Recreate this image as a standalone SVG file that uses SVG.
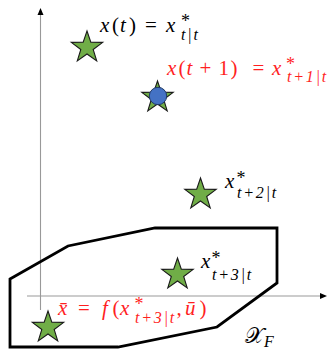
<svg xmlns="http://www.w3.org/2000/svg" width="328" height="349" viewBox="0 0 328 349">
<style>
text{font-family:'Liberation Serif','DejaVu Serif',serif}
.m{font-size:21px;fill:#000}
.i{font-style:italic}
.s{font-size:16px;font-style:italic;letter-spacing:1.8px}
.st{font-size:18px;font-style:normal}
.red{fill:#ff1f1f}
.ax{stroke:#999;stroke-width:1.1;fill:none}
.star{fill:#70ad47;stroke:#1a1a1a;stroke-width:1.1;stroke-linejoin:miter}
</style>
<defs>
<polygon id="star" class="star" points="0,-16.5 3.82,-5.26 15.69,-5.1 6.18,2.01 9.7,13.35 0,6.5 -9.7,13.35 -6.18,2.01 -15.69,-5.1 -3.82,-5.26"/>
</defs>
<rect width="328" height="349" fill="#fff"/>
<g id="axes">
<line class="ax" x1="40.5" y1="14" x2="40.5" y2="310"/>
<polygon points="40.5,8 37.5,15 43.5,15" fill="#000"/>
<line class="ax" x1="27" y1="296" x2="321" y2="296"/>
<polygon points="327,296 320,293 320,299" fill="#000"/>
</g>
<g id="feasible-set">
<polygon points="10,279 68,246 155,228 277,228 277,283 217,327 118,347 10,347" fill="none" stroke="#000" stroke-width="2.8" stroke-linejoin="miter"/>
<text class="m" x="245" y="343" style="font-size:22px">𝒳<tspan class="i" x="264" y="347" style="font-size:16px">F</tspan></text>
</g>
<g id="x-t">
<use href="#star" x="87" y="47.5"/>
<text class="m"><tspan class="i" x="100" y="32">x</tspan><tspan x="112" y="32">(</tspan><tspan class="i" x="120" y="32">t</tspan><tspan x="129" y="32">)</tspan><tspan x="145" y="32">=</tspan><tspan class="i" x="166" y="32">x</tspan><tspan class="st" x="181" y="27">*</tspan><tspan class="s" x="181" y="40">t|t</tspan></text>
</g>
<g id="x-t1">
<use href="#star" x="157.5" y="97.5"/>
<circle cx="158" cy="96" r="8.7" fill="#4472c4" stroke="#1f3864" stroke-width="1"/>
<text class="m red"><tspan class="i" x="167" y="75">x</tspan><tspan x="178.5" y="75">(</tspan><tspan class="i" x="186.5" y="75">t</tspan><tspan x="199.5" y="75">+</tspan><tspan x="218.5" y="75">1</tspan><tspan x="230.5" y="75">)</tspan><tspan x="252.5" y="75">=</tspan><tspan class="i" x="272" y="75">x</tspan><tspan class="st" x="286" y="70">*</tspan><tspan class="s" x="287" y="82">t+1|t</tspan></text>
</g>
<g id="x-t2">
<use href="#star" x="200.5" y="194.5"/>
<text class="m"><tspan class="i" x="225" y="188">x</tspan><tspan class="st" x="236.5" y="184">*</tspan><tspan class="s" x="237" y="198">t+2|t</tspan></text>
</g>
<g id="x-t3">
<use href="#star" x="177.5" y="274.5"/>
<text class="m"><tspan class="i" x="201" y="268">x</tspan><tspan class="st" x="211.5" y="264">*</tspan><tspan class="s" x="212" y="280">t+3|t</tspan></text>
</g>
<g id="x-bar">
<use href="#star" x="48" y="327.5"/>
<text class="m red"><tspan class="i" x="58" y="315">x̄</tspan><tspan x="78" y="315">=</tspan><tspan class="i" x="102" y="315">f</tspan><tspan x="112.5" y="315">(</tspan><tspan class="i" x="120" y="315">x</tspan><tspan class="st" x="134.5" y="310">*</tspan><tspan class="s" x="135" y="323">t+3|t</tspan><tspan x="176.5" y="315">,</tspan><tspan class="i" x="185" y="315">ū</tspan><tspan x="199.5" y="315">)</tspan></text>
</g>
</svg>
